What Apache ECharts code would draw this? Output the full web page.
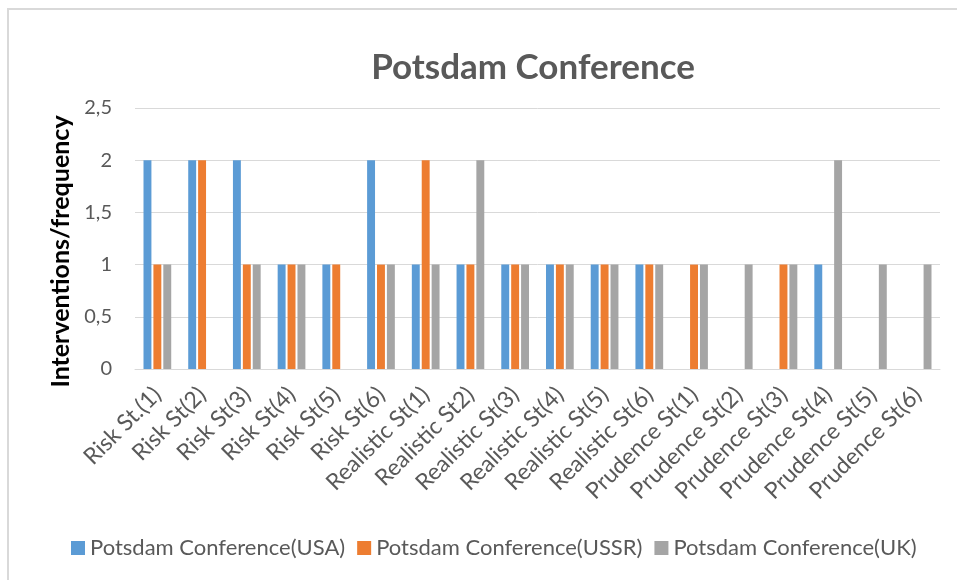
<!DOCTYPE html>
<html>
<head>
<meta charset="utf-8">
<script src="https://cdn.jsdelivr.net/npm/echarts@6/dist/echarts.min.js"></script>
<style>
  html, body { margin: 0; padding: 0; background: #fff; }
  #main { width: 957px; height: 580px; }
</style>
</head>
<body>
<div id="main"></div>
<script>
var categories = ['Risk St.(1)', 'Risk St(2)', 'Risk St(3)', 'Risk St(4)', 'Risk St(5)', 'Risk St(6)',
  'Realistic St(1)', 'Realistic St2)', 'Realistic St(3)', 'Realistic St(4)', 'Realistic St(5)', 'Realistic St(6)',
  'Prudence St(1)', 'Prudence St(2)', 'Prudence St(3)', 'Prudence St(4)', 'Prudence St(5)', 'Prudence St(6)']
var usa = [2, 2, 2, 1, 1, 2, 1, 1, 1, 1, 1, 1, 0, 0, 0, 1, 0, 0]
var ussr = [1, 2, 1, 1, 1, 1, 2, 1, 1, 1, 1, 1, 1, 0, 1, 0, 0, 0]
var uk = [1, 0, 1, 1, 0, 1, 1, 2, 1, 1, 1, 1, 1, 1, 1, 2, 1, 1]
var seriesNames = ['Potsdam Conference(USA)', 'Potsdam Conference(USSR)', 'Potsdam Conference(UK)']

var font = 'Lato, "Open Sans", sans-serif'
var myChart = echarts.init(document.getElementById('main'))
var option = {
  backgroundColor: '#fff',
  color: ['#5b9bd5', '#ed7d31', '#a5a5a5'],
  textStyle: { fontFamily: font },
  graphic: [{
    // chart frame, only its left and top edges are inside the picture
    type: 'rect',
    shape: { x: 8, y: 9, width: 1000, height: 1000 },
    style: { fill: 'none', stroke: '#d9d9d9', lineWidth: 2 },
    silent: true
  }],
  title: {
    text: 'Potsdam Conference',
    left: 528,
    textAlign: 'center',
    top: 45,
    textStyle: { color: '#595959', fontSize: 35, fontWeight: 'bold', fontFamily: font }
  },
  legend: {
    bottom: 16,
    left: 66,
    itemWidth: 14,
    itemHeight: 14,
    itemGap: 12,
    icon: 'rect',
    textStyle: { color: '#595959', fontSize: 22, fontFamily: font },
    data: seriesNames
  },
  grid: { left: 135, right: 17, top: 108, bottom: 211 },
  xAxis: {
    type: 'category',
    data: categories,
    axisTick: { show: false },
    axisLine: { lineStyle: { color: '#d9d9d9', width: 1 } },
    axisLabel: { interval: 0, rotate: 45, color: '#595959', fontSize: 23, margin: 22, fontFamily: font }
  },
  yAxis: {
    type: 'value',
    min: 0,
    max: 2.5,
    interval: 0.5,
    name: 'Interventions/frequency',
    nameLocation: 'middle',
    nameGap: 62,
    nameTextStyle: { color: '#000', fontSize: 25, fontWeight: 'bold', fontFamily: font, padding: [0, 26, 0, 0] },
    axisLine: { show: false },
    axisTick: { show: false },
    axisLabel: {
      color: '#595959', fontSize: 20, margin: 23, fontFamily: font,
      formatter: function (v) { return String(v).replace('.', ',') }
    },
    splitLine: { lineStyle: { color: '#d9d9d9', width: 1 } }
  },
  series: [
    { name: seriesNames[0], type: 'bar', data: usa, barGap: '25%', barCategoryGap: '38%' },
    { name: seriesNames[1], type: 'bar', data: ussr, barGap: '25%', barCategoryGap: '38%' },
    { name: seriesNames[2], type: 'bar', data: uk, barGap: '25%', barCategoryGap: '38%' }
  ]
}
myChart.setOption(option)
</script>
</body>
</html>
